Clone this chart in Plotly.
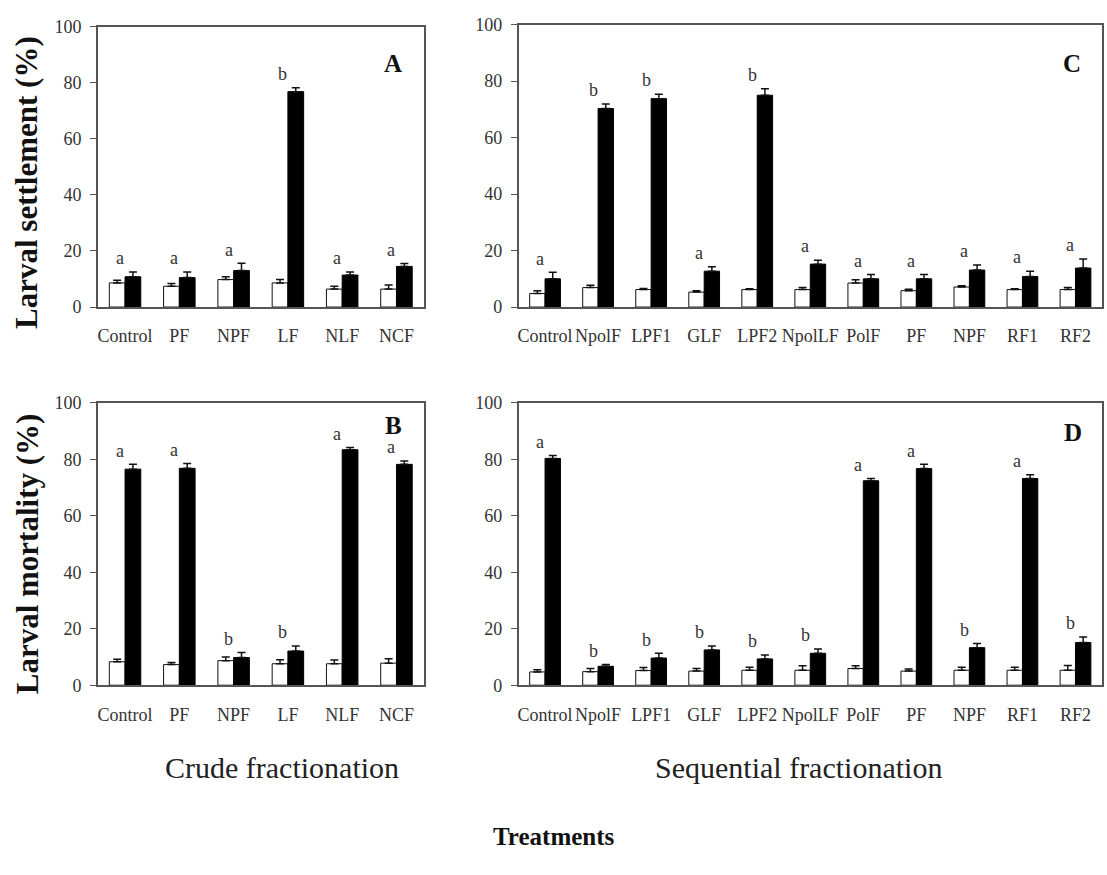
import plotly.graph_objects as go

# ---------------- data ----------------
crude_cats = ["Control", "PF", "NPF", "LF", "NLF", "NCF"]
seq_cats = ["Control", "NpolF", "LPF1", "GLF", "LPF2", "NpolLF", "PolF", "PF", "NPF", "RF1", "RF2"]

# Panel A - larval settlement, crude fractionation
A_white = [8.6, 7.4, 9.8, 8.6, 6.4, 6.4]
A_white_err = [1.0, 1.0, 1.0, 1.2, 1.0, 1.5]
A_black = [10.8, 10.5, 13.0, 76.8, 11.4, 14.5]
A_black_err = [1.7, 2.0, 2.6, 1.4, 1.1, 1.0]
A_letters = ["a", "a", "a", "b", "a", "a"]

# Panel B - larval mortality, crude fractionation
B_white = [8.3, 7.3, 8.7, 7.6, 7.6, 7.8]
B_white_err = [0.9, 0.7, 1.3, 1.4, 1.3, 1.6]
B_black = [76.5, 76.8, 9.8, 12.1, 83.4, 78.2]
B_black_err = [1.7, 1.7, 1.8, 1.8, 0.8, 1.2]
B_letters = ["a", "a", "b", "b", "a", "a"]

# Panel C - larval settlement, sequential fractionation
C_white = [4.8, 6.9, 6.2, 5.3, 6.2, 6.2, 8.5, 5.8, 7.1, 6.2, 6.2]
C_white_err = [1.0, 0.8, 0.4, 0.5, 0.3, 0.7, 1.2, 0.5, 0.4, 0.3, 0.7]
C_black = [10.0, 70.3, 73.8, 12.7, 75.0, 15.2, 10.0, 10.0, 13.1, 10.8, 13.8]
C_black_err = [2.3, 1.6, 1.6, 1.6, 2.3, 1.4, 1.5, 1.5, 1.8, 1.9, 3.2]
C_letters = ["a", "b", "b", "a", "b", "a", "a", "a", "a", "a", "a"]

# Panel D - larval mortality, sequential fractionation
D_white = [4.7, 4.8, 5.2, 5.0, 5.3, 5.3, 5.9, 5.0, 5.3, 5.3, 5.3]
D_white_err = [0.8, 1.1, 1.1, 0.9, 1.1, 1.6, 1.0, 0.7, 1.1, 1.1, 1.7]
D_black = [80.3, 6.7, 9.6, 12.5, 9.3, 11.3, 72.4, 76.7, 13.3, 73.2, 15.1]
D_black_err = [1.0, 0.6, 1.7, 1.4, 1.4, 1.5, 0.8, 1.5, 1.5, 1.3, 2.0]
D_letters = ["a", "b", "b", "b", "b", "b", "a", "a", "b", "a", "b"]

y_ticks = [0, 20, 40, 60, 80, 100]

# ---------------- styling ----------------
W, H = 1107, 875
SERIF = "Liberation Serif, Times New Roman, serif"
FRAME = "#555555"
TXT = "#333333"


def px_x(a, b):
    return [a / W, b / W]


def px_y(top, bottom):
    return [1 - bottom / H, 1 - top / H]


fig = go.Figure()

panels = [
    ("x", "y", crude_cats, A_white, A_white_err, A_black, A_black_err, A_letters),
    ("x2", "y2", seq_cats, C_white, C_white_err, C_black, C_black_err, C_letters),
    ("x3", "y3", crude_cats, B_white, B_white_err, B_black, B_black_err, B_letters),
    ("x4", "y4", seq_cats, D_white, D_white_err, D_black, D_black_err, D_letters),
]

annotations = []
for xa, ya, cats, w, we, b, be, letters in panels:
    n = len(cats)
    fig.add_trace(go.Bar(
        x=cats, y=w, xaxis=xa, yaxis=ya,
        marker=dict(color="white", line=dict(color="#111111", width=1)),
        error_y=dict(type="data", symmetric=False, array=we, arrayminus=[0] * n,
                     color="#111111", thickness=1.5, width=4),
        showlegend=False, hoverinfo="skip",
    ))
    fig.add_trace(go.Bar(
        x=cats, y=b, xaxis=xa, yaxis=ya,
        marker=dict(color="black", line=dict(color="black", width=1)),
        error_y=dict(type="data", symmetric=False, array=be, arrayminus=[0] * n,
                     color="#111111", thickness=1.5, width=4),
        showlegend=False, hoverinfo="skip",
    ))
    for i, c in enumerate(cats):
        top = max(w[i] + we[i], b[i] + be[i])
        annotations.append(dict(
            x=c, y=top + 0.6, xref=xa, yref=ya, text=letters[i], showarrow=False,
            xanchor="center", yanchor="bottom", xshift=-5,
            font=dict(family=SERIF, size=18, color=TXT),
        ))

common_x = dict(type="category", showline=True, mirror=True, linecolor=FRAME, linewidth=1.5,
                ticks="", showgrid=False, zeroline=False, tickangle=0,
                tickfont=dict(family=SERIF, size=18, color=TXT), ticklabelstandoff=12)
common_y = dict(range=[0, 100], tickvals=y_ticks, showline=True, mirror=True, linecolor=FRAME,
                linewidth=1.5, ticks="outside", ticklen=6, tickcolor=FRAME, tickwidth=1,
                showgrid=False, zeroline=False, ticklabelstandoff=5,
                tickfont=dict(family=SERIF, size=18, color=TXT))

fig.update_layout(
    width=W, height=H, margin=dict(l=0, r=0, t=0, b=0),
    paper_bgcolor="white", plot_bgcolor="white",
    barmode="group", bargap=0.42, bargroupgap=0,
    showlegend=False,
    xaxis=dict(domain=px_x(97, 423), anchor="y", **common_x),
    yaxis=dict(domain=px_y(17, 304), anchor="x", **common_y),
    xaxis2=dict(domain=px_x(518, 1102), anchor="y2", **common_x),
    yaxis2=dict(domain=px_y(15, 304), anchor="x2", **common_y),
    xaxis3=dict(domain=px_x(97, 423), anchor="y3", **common_x),
    yaxis3=dict(domain=px_y(402, 691), anchor="x3", **common_y),
    xaxis4=dict(domain=px_x(518, 1102), anchor="y4", **common_x),
    yaxis4=dict(domain=px_y(402, 691), anchor="x4", **common_y),
)

# panel letters
for letter, xp, yp in [("A", 392, 55), ("C", 1072, 55), ("B", 393, 425), ("D", 1073, 432)]:
    annotations.append(dict(x=xp / W, y=1 - yp / H, xref="paper", yref="paper", text="<b>%s</b>" % letter,
                            showarrow=False, xanchor="center", yanchor="middle",
                            font=dict(family=SERIF, size=25, color="#111111")))

# axis titles
annotations += [
    dict(x=26 / W, y=1 - 176 / H, xref="paper", yref="paper", text="<b>Larval settlement (%)</b>",
         textangle=-90, showarrow=False, xanchor="center", yanchor="middle",
         font=dict(family=SERIF, size=31, color="#111111")),
    dict(x=26 / W, y=1 - 556 / H, xref="paper", yref="paper", text="<b>Larval mortality (%)</b>",
         textangle=-90, showarrow=False, xanchor="center", yanchor="middle",
         font=dict(family=SERIF, size=31, color="#111111")),
    dict(x=281 / W, y=1 - 775 / H, xref="paper", yref="paper", text="Crude fractionation",
         showarrow=False, xanchor="center", yanchor="middle",
         font=dict(family=SERIF, size=30, color="#222222")),
    dict(x=798 / W, y=1 - 775 / H, xref="paper", yref="paper", text="Sequential fractionation",
         showarrow=False, xanchor="center", yanchor="middle",
         font=dict(family=SERIF, size=30, color="#222222")),
    dict(x=553 / W, y=1 - 846 / H, xref="paper", yref="paper", text="<b>Treatments</b>",
         showarrow=False, xanchor="center", yanchor="middle",
         font=dict(family=SERIF, size=25, color="#111111")),
]

fig.update_layout(annotations=annotations)
fig.write_html("out.html")
